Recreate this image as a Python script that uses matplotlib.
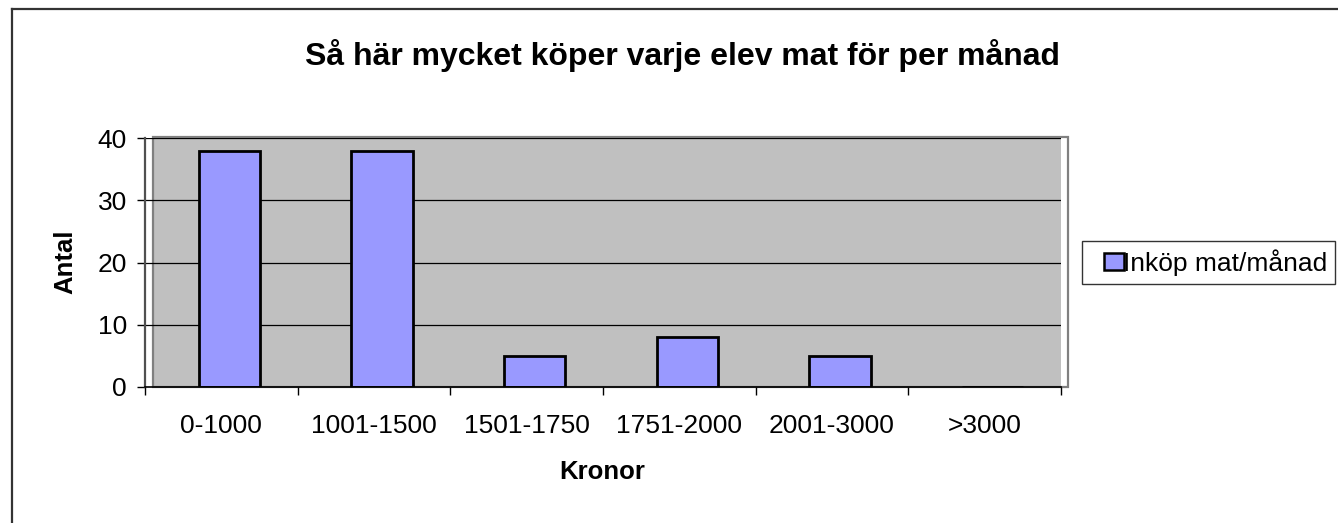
import matplotlib
matplotlib.use("Agg")
import matplotlib.pyplot as plt
from matplotlib.patches import Rectangle
from matplotlib.lines import Line2D
from matplotlib.legend_handler import HandlerPatch

plt.rcParams['font.family'] = ['Liberation Sans', 'DejaVu Sans']

# data
kategorier = ['0-1000', '1001-1500', '1501-1750', '1751-2000', '2001-3000', '>3000']
antal = [38, 38, 5, 8, 5, 0]
serie_namn = 'Inköp mat/månad'
y_ticks = [0, 10, 20, 30, 40]

W, H = 1338, 523
fig = plt.figure(figsize=(W / 100, H / 100), dpi=100)
fig.patch.set_facecolor('white')

# plot area (in pixels of the picture)
L, R, T, B = 145, 1061, 138.3, 386.7
ax = fig.add_axes([L / W, 1 - B / H, (R - L) / W, (B - T) / H])
ax.set_facecolor('none')

n = len(kategorier)
ax.set_xlim(-0.5, n - 0.5)
ax.set_ylim(0, 40)

# grey plot area, a little shifted to the right like the Excel original
dx = 8 / (R - L)
ax.add_patch(Rectangle((dx, 0), 1 - dx, 1, transform=ax.transAxes,
                       facecolor='#C0C0C0', edgecolor='none', zorder=0))
ax.add_patch(Rectangle((dx, 0), (1068 - L) / (R - L) - dx, 1.004, transform=ax.transAxes,
                       facecolor='none', edgecolor='#808080', lw=1.6, clip_on=False, zorder=0.5))

# gridlines
ax.set_yticks(y_ticks)
ax.yaxis.grid(True, color='black', lw=0.9, zorder=1)
ax.set_axisbelow(True)

# bars
shift = 8 / ((R - L) / n)
xs = [i + shift for i in range(n)]
ax.bar(xs, antal, width=0.40, color='#9999FF', edgecolor='black', lw=2, zorder=3)

# axes
for s in ['top', 'right']:
    ax.spines[s].set_visible(False)
ax.spines['left'].set_color('#505050')
ax.spines['left'].set_linewidth(1.6)
ax.spines['bottom'].set_color('black')
ax.spines['bottom'].set_linewidth(1.2)
ax.spines['left'].set_zorder(4)
ax.spines['bottom'].set_zorder(4)

ax.tick_params(axis='y', direction='out', length=6, width=1, pad=7,
               labelsize=19, colors='black')
ax.set_xticks(range(n))
ax.set_xticklabels(kategorier)
ax.set_xticks([i - 0.5 for i in range(n + 1)], minor=True)
ax.tick_params(axis='x', which='major', length=0, pad=20, labelsize=19)
ax.tick_params(axis='x', which='minor', direction='out', length=6, width=1, color='black')

# texts
fig.text(682 / W, 1 - 55 / H, 'Så här mycket köper varje elev mat för per månad',
         ha='center', va='center', fontsize=23, fontweight='bold')
fig.text(602.5 / W, 1 - 472 / H, 'Kronor', ha='center', va='center',
         fontsize=18.5, fontweight='bold')
fig.text(65 / W, 1 - 262 / H, 'Antal', ha='center', va='center', rotation=90,
         fontsize=18.5, fontweight='bold')


# legend: small square at the right end of the handle box
def square_patch(legend, orig_handle, xdescent, ydescent, width, height, fontsize):
    s = height
    return Rectangle((width - s - xdescent, -ydescent), s * 1.15, s)


handle = Rectangle((0, 0), 1, 1, facecolor='#9999FF', edgecolor='black', lw=1.8)
leg = fig.legend([handle], [serie_namn], loc='center left',
                 bbox_to_anchor=(1082 / W, 1 - 262.5 / H),
                 fontsize=19, frameon=True, fancybox=False, edgecolor='black',
                 handlelength=1.2, handleheight=0.62, handletextpad=0.05,
                 borderpad=0.3, borderaxespad=0,
                 handler_map={Rectangle: HandlerPatch(patch_func=square_patch)})
leg.get_frame().set_linewidth(1.0)

# outer chart border (left and top only visible)
fig.add_artist(Line2D([11.5 / W, 11.5 / W], [0, 1 - 9 / H], color='#333333', lw=1.6))
fig.add_artist(Line2D([11.5 / W, 1], [1 - 9 / H, 1 - 9 / H], color='#333333', lw=1.6))

fig.savefig('out.png', dpi=100)
